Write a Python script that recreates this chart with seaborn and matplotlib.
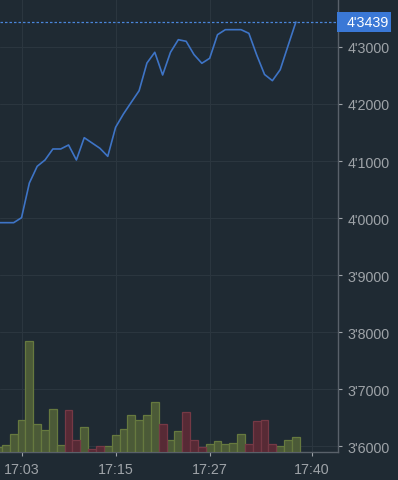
import matplotlib
matplotlib.use("Agg")
import matplotlib.pyplot as plt
import matplotlib.transforms as mtransforms
from matplotlib.patches import Rectangle
from matplotlib.ticker import FuncFormatter, FixedLocator
import seaborn as sns
import pandas as pd

# minute bars starting at 17:00
minutes = list(range(39))
price = [3.9918, 3.9918, 3.9918, 4.0005, 4.0614, 4.0907, 4.1018, 4.1211, 4.1211, 4.1281,
         4.1018, 4.1409, 4.1316, 4.1223, 4.1082, 4.1591, 4.1825, 4.2030, 4.2233, 4.2719,
         4.2907, 4.2509, 4.2907, 4.3128, 4.3100, 4.2867, 4.2714, 4.2802, 4.3216, 4.3304,
         4.3304, 4.3304, 4.3240, 4.2860, 4.2518, 4.2409, 4.2602, 4.3023, 4.3439]
volume = [5, 7, 18, 32, 111, 28, 22, 43, 7, 42,
          12, 25, 3.5, 6, 6, 17, 23, 37, 32, 37,
          50, 28, 12, 21, 40, 12, 4.7, 8.3, 11, 8.3,
          9.5, 18, 8.3, 31, 32, 8.3, 6.3, 12, 15]
direction = ["up", "up", "up", "up", "up", "up", "up", "up", "up", "down",
             "down", "up", "down", "down", "up", "up", "up", "up", "up", "up",
             "up", "down", "up", "up", "down", "down", "down", "up", "up", "up",
             "up", "up", "down", "down", "down", "down", "up", "up", "up"]
xticks = [3, 15, 27, 40]
yticks = [3.6, 3.7, 3.8, 3.9, 4.0, 4.1, 4.2, 4.3]

bg = "#1f2a33"
gridc = "#2b363f"
textc = "#9ea3a8"
linec = "#3e74c6"
green_fill, green_edge = "#4b5a37", "#66793f"
red_fill, red_edge = "#572a35", "#753945"

sns.set_theme(style="dark", rc={"axes.facecolor": bg, "figure.facecolor": bg})
plt.rcParams["font.family"] = ["Liberation Sans", "DejaVu Sans"]

fig = plt.figure(figsize=(3.98, 4.81), dpi=100)
ax = fig.add_axes([0, 28 / 481, 338 / 398, 453 / 481])
ax.set_facecolor(bg)

# volume on a hidden twin axis, drawn above the grid
ax2 = ax.twinx()
vol_df = pd.DataFrame({"minute": minutes, "volume": volume, "direction": direction})
sns.barplot(data=vol_df, x="minute", y="volume", hue="direction",
            palette={"up": green_fill, "down": red_fill}, native_scale=True,
            dodge=False, width=1, errorbar=None, legend=False, saturation=1,
            linewidth=0.9, ax=ax2)
for p in ax2.patches:
    fc = matplotlib.colors.to_hex(p.get_facecolor()[:3])
    p.set_edgecolor(green_edge if fc == green_fill else red_edge)
ax2.set_ylim(0, 453)
ax2.set_yticks([])
ax2.set_ylabel("")
ax2.grid(False)
ax2.patch.set_visible(False)
for s in ax2.spines.values():
    s.set_visible(False)

sns.lineplot(x=minutes, y=price, ax=ax, color=linec, linewidth=1.2)
ax.axhline(price[-1], color="#4a86dc", linestyle=(0, (2, 1.6)), linewidth=0.9)

ax.set_xlim(0.255, 43.37)
ax.set_ylim(3.5895, 4.3842)
ax.xaxis.set_major_locator(FixedLocator(xticks))
ax.yaxis.set_major_locator(FixedLocator(yticks))
ax.xaxis.set_major_formatter(FuncFormatter(lambda v, _: "17:%02d" % int(round(v))))
ax.yaxis.set_major_formatter(FuncFormatter(lambda v, _: ("%.4f" % v).replace(".", "'")))
ax.yaxis.tick_right()
ax.tick_params(axis="both", colors=textc, labelsize=10.3, length=3, width=0.8,
               direction="out", pad=4, bottom=True, right=True, left=False)
ax.set_xlabel("")
ax.set_ylabel("")
ax.grid(True, color=gridc, linewidth=0.8)
ax.set_axisbelow(True)
for side in ["top", "left"]:
    ax.spines[side].set_visible(False)
for side in ["right", "bottom"]:
    ax.spines[side].set_color("#59616a")
    ax.spines[side].set_linewidth(1.0)

# last price label
trans = mtransforms.blended_transform_factory(ax.transAxes, ax.transData)
ax.add_patch(Rectangle((1.0 - 1 / 338, price[-1] - 10 / 570), 54 / 338, 20 / 570,
                       transform=trans, facecolor="#3a78d6", edgecolor="none",
                       clip_on=False, zorder=5))
ax.text(1.0 + 9 / 338, price[-1], ("%.4f" % price[-1]).replace(".", "'"),
        transform=trans, color="white", fontsize=10.3, va="center", ha="left",
        clip_on=False, zorder=6)

fig.savefig("out.png", dpi=100, facecolor=bg)
